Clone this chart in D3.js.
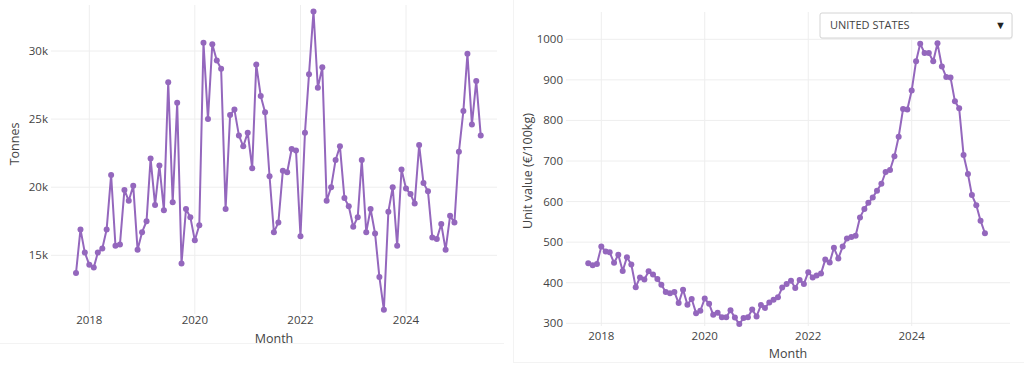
<!DOCTYPE html>
<html>
<head>
<meta charset="utf-8">
<script src="https://cdn.jsdelivr.net/npm/d3@7"></script>
<style>
  html, body { margin: 0; padding: 0; background: #fff; }
  svg { display: block; }
  text { font-family: "Open Sans", verdana, arial, sans-serif; }
</style>
</head>
<body>
<div id="chart"></div>
<script>
// monthly series, Oct 2017 .. Jun 2025
var months = d3.utcMonth.range(new Date(Date.UTC(2017, 9, 1)), new Date(Date.UTC(2025, 6, 1)));

var tonnes = [
  13700, 16900, 15200,
  14300, 14100, 15200, 15500, 16900, 20900, 15700, 15800, 19800, 19000, 20100, 15400,
  16700, 17500, 22100, 18700, 21600, 18300, 27700, 18900, 26200, 14400, 18400, 17800,
  16100, 17200, 30600, 25000, 30500, 29300, 28700, 18400, 25300, 25700, 23800, 23000,
  24000, 21400, 29000, 26700, 25500, 20800, 16700, 17400, 21200, 21100, 22800, 22700,
  16400, 24000, 28300, 32900, 27300, 28800, 19000, 20000, 22000, 23000, 19200, 18600,
  17100, 17800, 22000, 16700, 18400, 16600, 13400, 11000, 18200, 20000, 15700, 21300,
  19900, 19500, 18800, 23100, 20300, 19700, 16300, 16200, 17300, 15400, 17900, 17400,
  22600, 25600, 29800, 24600, 27800, 23800
];

var unitValue = [
  448, 443, 446,
  489, 477, 475, 449, 469, 429, 463, 445, 389, 413, 408, 428,
  420, 409, 395, 377, 374, 377, 350, 383, 346, 360, 325, 331,
  361, 348, 321, 326, 315, 315, 332, 314, 298, 313, 315, 334,
  317, 345, 338, 351, 358, 364, 388, 397, 405, 387, 407, 397,
  426, 413, 418, 423, 457, 450, 486, 460, 489, 509, 513, 516,
  561, 582, 597, 610, 627, 644, 673, 678, 712, 760, 828, 827,
  874, 946, 989, 966, 966, 946, 990, 933, 907, 906, 847, 830,
  715, 668, 616, 591, 553, 522
];

var yearTicks = [2018, 2020, 2022, 2024].map(function(y) { return new Date(Date.UTC(y, 0, 1)); });
var tonnesTicks = [15000, 20000, 25000, 30000];
var unitTicks = [300, 400, 500, 600, 700, 800, 900, 1000];
var country = "UNITED STATES";

var lineColor = "#9467bd";
var gridColor = "#eeeeee";
var textColor = "#444";

var w = 1024, h = 386;
var svg = d3.select("#chart").append("svg")
  .attr("width", w)
  .attr("height", h);

// faint panel edges
svg.append("line").attr("x1", 0).attr("x2", 504).attr("y1", 343.5).attr("y2", 343.5).attr("stroke", "#f3f3f3");
svg.append("line").attr("x1", 513.5).attr("x2", 513.5).attr("y1", 0).attr("y2", 362).attr("stroke", "#f3f3f3");
svg.append("line").attr("x1", 513).attr("x2", 1024).attr("y1", 362.5).attr("y2", 362.5).attr("stroke", "#f3f3f3");

function drawChart(cfg) {
  var g = svg.append("g");
  var x = d3.scaleUtc().domain([yearTicks[0], yearTicks[3]]).range(cfg.xRange);
  var y = d3.scaleLinear().domain(cfg.yDomain).range(cfg.yRange);

  // vertical grid
  g.selectAll(".vgrid").data(yearTicks).enter()
    .append("line")
    .attr("x1", function(d) { return x(d); })
    .attr("x2", function(d) { return x(d); })
    .attr("y1", cfg.top)
    .attr("y2", cfg.bottom)
    .attr("stroke", gridColor)
    .attr("stroke-width", 1);

  // horizontal grid
  g.selectAll(".hgrid").data(cfg.ticks).enter()
    .append("line")
    .attr("x1", cfg.left)
    .attr("x2", cfg.right)
    .attr("y1", function(d) { return y(d); })
    .attr("y2", function(d) { return y(d); })
    .attr("stroke", gridColor)
    .attr("stroke-width", 1);

  // y tick labels
  g.selectAll(".ylab").data(cfg.ticks).enter()
    .append("text")
    .attr("x", cfg.left - 3)
    .attr("y", function(d) { return y(d); })
    .attr("dy", "0.35em")
    .attr("text-anchor", "end")
    .attr("font-size", 11.5)
    .attr("fill", textColor)
    .text(cfg.fmt);

  // x tick labels
  g.selectAll(".xlab").data(yearTicks).enter()
    .append("text")
    .attr("x", function(d) { return x(d); })
    .attr("y", cfg.xLabelY)
    .attr("text-anchor", "middle")
    .attr("font-size", 11.5)
    .attr("fill", textColor)
    .text(function(d) { return d.getUTCFullYear(); });

  // axis titles
  g.append("text")
    .attr("x", (cfg.left + cfg.right) / 2)
    .attr("y", cfg.monthY)
    .attr("text-anchor", "middle")
    .attr("font-size", 12.5)
    .attr("fill", textColor)
    .text("Month");

  g.append("text")
    .attr("transform", "translate(" + cfg.titleX + "," + cfg.titleY + ") rotate(-90)")
    .attr("text-anchor", "middle")
    .attr("font-size", 12.5)
    .attr("fill", textColor)
    .text(cfg.title);

  var line = d3.line()
    .x(function(d, i) { return x(months[i]); })
    .y(function(d) { return y(d); });

  g.append("path")
    .datum(cfg.values)
    .attr("d", line)
    .attr("fill", "none")
    .attr("stroke", lineColor)
    .attr("stroke-width", 2)
    .attr("stroke-linejoin", "round");

  g.selectAll(".pt").data(cfg.values).enter()
    .append("circle")
    .attr("cx", function(d, i) { return x(months[i]); })
    .attr("cy", function(d) { return y(d); })
    .attr("r", 3)
    .attr("fill", lineColor);
}

drawChart({
  values: tonnes,
  xRange: [89.3, 406],
  yDomain: [15000, 30000],
  yRange: [255.3, 51],
  ticks: tonnesTicks,
  fmt: function(d) { return (d / 1000) + "k"; },
  left: 51, right: 497, top: 5, bottom: 314,
  xLabelY: 324,
  monthY: 343,
  title: "Tonnes",
  titleX: 19, titleY: 144
});

drawChart({
  values: unitValue,
  xRange: [601.3, 911.7],
  yDomain: [300, 1000],
  yRange: [323.3, 39.3],
  ticks: unitTicks,
  fmt: function(d) { return d; },
  left: 566, right: 1010, top: 12, bottom: 326,
  xLabelY: 339.5,
  monthY: 358,
  title: "Unit value (\u20ac/100kg)",
  titleX: 532, titleY: 171
});

// dropdown
var dd = svg.append("g").attr("transform", "translate(820,13)");
dd.append("rect")
  .attr("x", 0.5).attr("y", 1.5)
  .attr("width", 192).attr("height", 25)
  .attr("rx", 2)
  .attr("fill", "#f2f2f2");
dd.append("rect")
  .attr("x", 0).attr("y", 0)
  .attr("width", 192).attr("height", 25)
  .attr("rx", 2)
  .attr("fill", "#fff")
  .attr("stroke", "#d4d4d4")
  .attr("stroke-width", 1);
dd.append("text")
  .attr("x", 10)
  .attr("y", 16)
  .attr("font-size", 11)
  .attr("fill", textColor)
  .text(country);
dd.append("text")
  .attr("x", 186)
  .attr("y", 16)
  .attr("text-anchor", "end")
  .attr("font-size", 11)
  .attr("fill", "#222")
  .text("\u25bc");
</script>
</body>
</html>
